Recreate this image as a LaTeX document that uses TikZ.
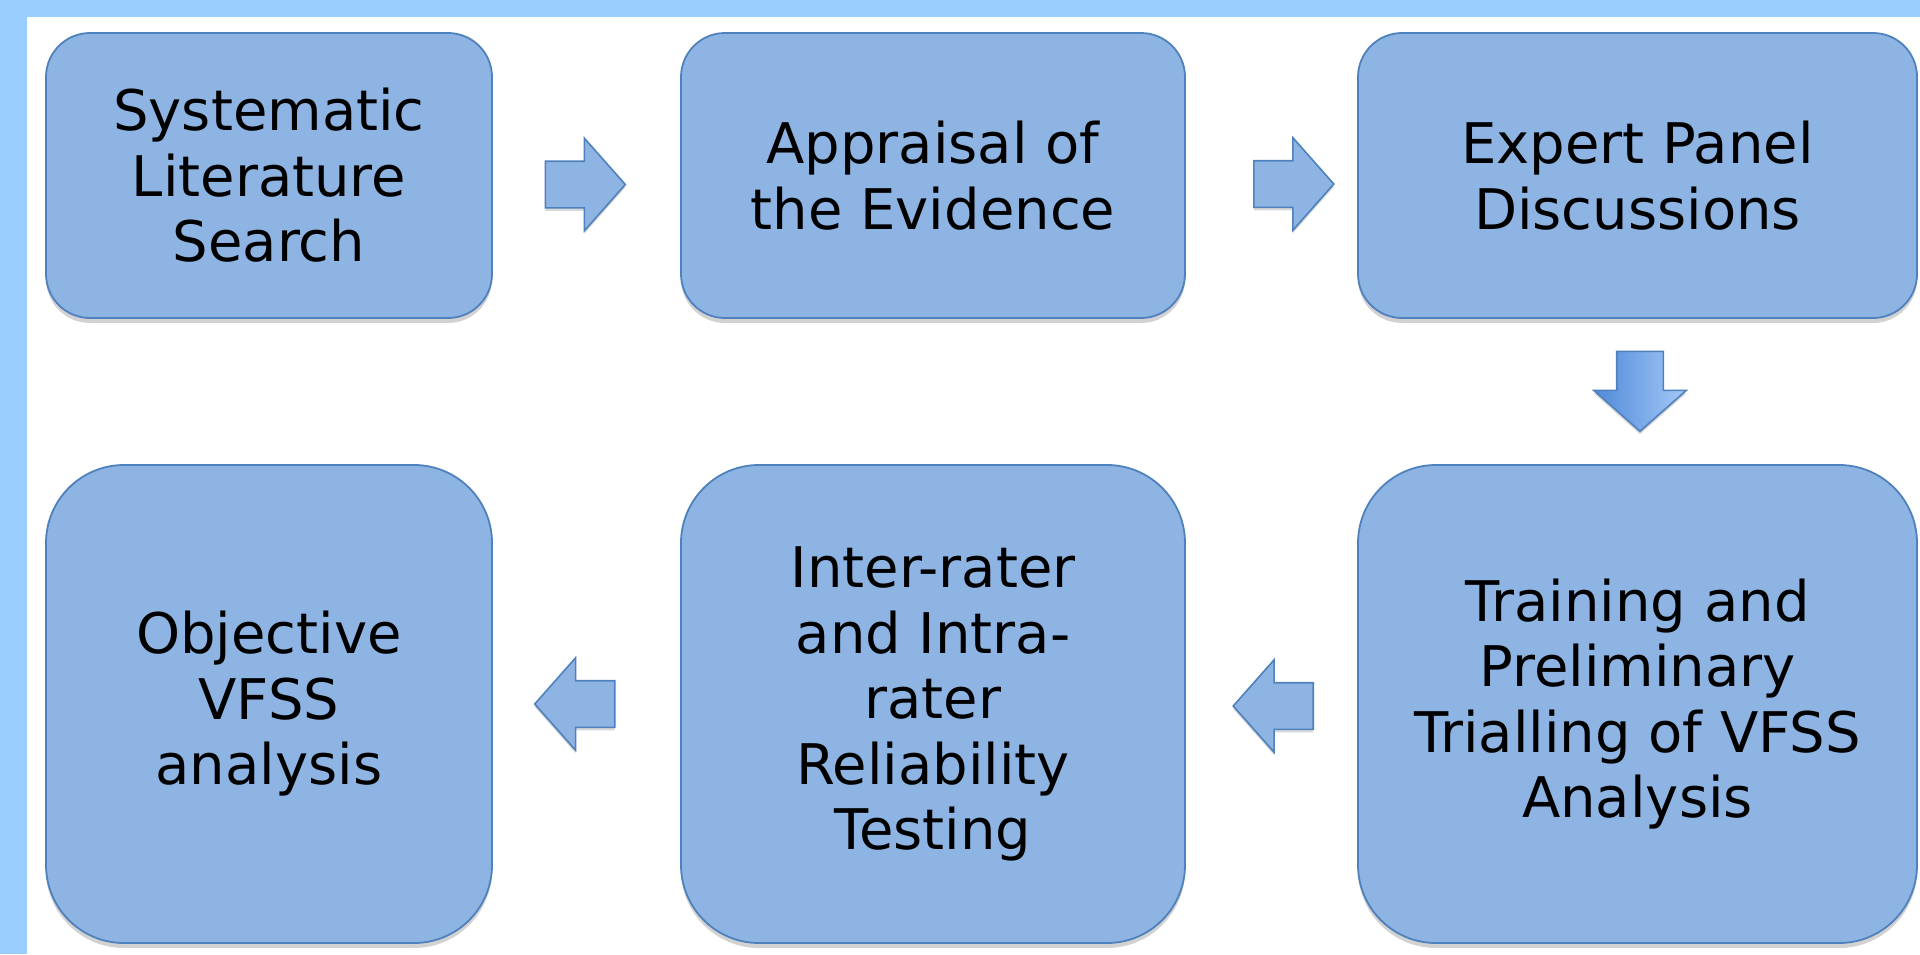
\documentclass[tikz,border=0pt]{standalone}
\usepackage{fontspec}
\setmainfont{DejaVu Sans}
\usetikzlibrary{shapes.arrows,shadows}
\definecolor{bandblue}{HTML}{99CCFF}
\definecolor{boxfill}{HTML}{8EB4E3}
\definecolor{boxline}{HTML}{4F81BD}
\definecolor{arrowdark}{HTML}{4F8AD8}
\definecolor{arrowlight}{HTML}{A4C8F8}

\begin{document}
\begin{tikzpicture}[x=0.5pt, y=-0.5pt,
		base/.style={draw=boxline, fill=boxfill, line width=0.9pt, align=center, inner sep=0pt,
			font=\fontsize{28}{32.75}\selectfont,
			drop shadow={shadow xshift=0pt, shadow yshift=-2.5pt, opacity=0.35}},
		upper/.style={base, minimum height=142.5pt, rounded corners=22pt},
		lower/.style={base, minimum height=239pt, rounded corners=39pt},
		flow/.style={single arrow, draw=boxline, fill=boxfill, line width=0.8pt,
			minimum height=40pt, inner sep=11.25pt, single arrow head extend=11.5pt,
			single arrow tip angle=97,
			drop shadow={shadow xshift=0pt, shadow yshift=-1.5pt, opacity=0.3}}
	]

	\fill[white] (0,0) rectangle (1920,954);
	\fill[bandblue] (0,0) rectangle (1920,17);
	\fill[bandblue] (0,0) rectangle (27,954);

	\node[upper, minimum width=223pt] at (269,175.5) (search) {Systematic\\Literature\\Search};
	\node[upper, minimum width=252pt] at (933,175.5) (appraisal) {Appraisal of\\the Evidence};
	\node[upper, minimum width=279.5pt] at (1637.5,175.5) (panel) {Expert Panel\\Discussions};

	\node[lower, minimum width=223pt] at (269,704) (objective) {Objective\\VFSS\\analysis};
	\node[lower, minimum width=252pt] at (933,704) (reliability) {Inter-rater\\and Intra-\\rater\\Reliability\\Testing};
	\node[lower, minimum width=279.5pt] at (1637.5,704) (trialling) {Training and\\Preliminary\\Trialling of VFSS\\Analysis};

	\node[flow] at (575,184.5) (arrowA) {};
	\node[flow] at (1283.5,184) (arrowB) {};
	\node[flow, shape border rotate=270, left color=arrowdark, right color=arrowlight] at (1640,381) (arrowC) {};
	\node[flow, shape border rotate=180] at (1283.5,706) (arrowD) {};
	\node[flow, shape border rotate=180] at (585,704) (arrowE) {};

\end{tikzpicture}
\end{document}
